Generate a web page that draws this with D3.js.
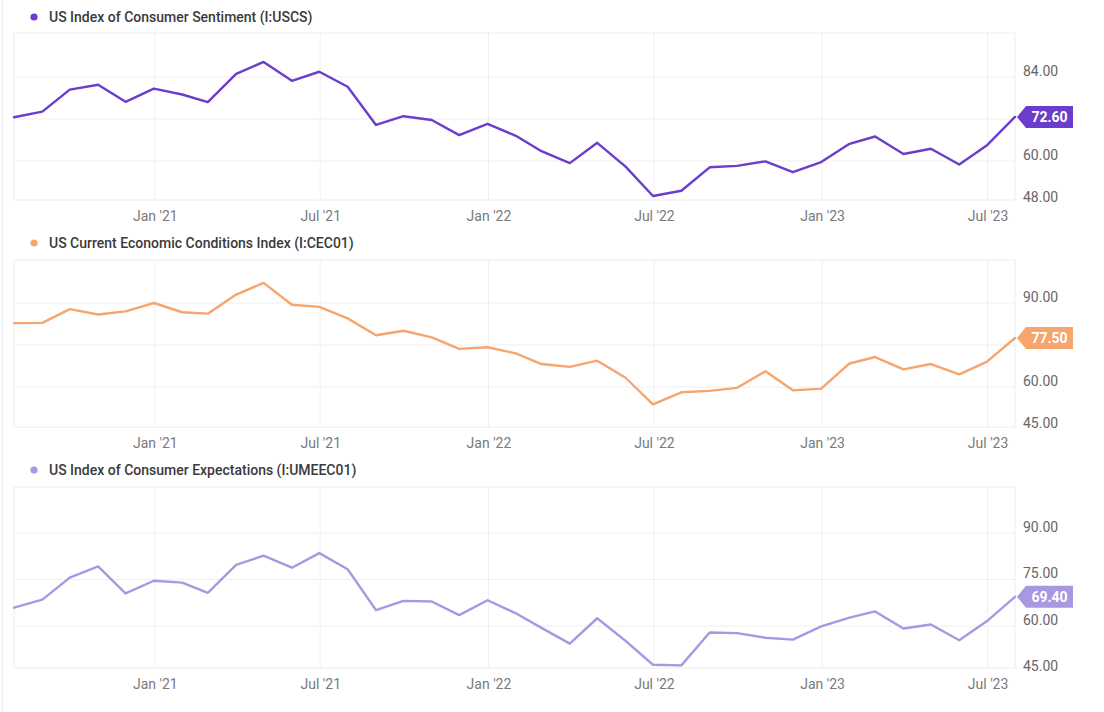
<!DOCTYPE html>
<html>
<head>
<meta charset="utf-8">
<script src="https://cdn.jsdelivr.net/npm/d3@7"></script>
<style>
  html, body { margin: 0; padding: 0; background: #ffffff; }
  svg { display: block; font-family: Roboto, "Noto Sans", sans-serif; }
</style>
</head>
<body>
<svg id="chart" width="1104" height="712"></svg>
<script>
// ---------- data ----------
const months = [
  "2020-07","2020-08","2020-09","2020-10","2020-11","2020-12",
  "2021-01","2021-02","2021-03","2021-04","2021-05","2021-06","2021-07","2021-08","2021-09","2021-10","2021-11","2021-12",
  "2022-01","2022-02","2022-03","2022-04","2022-05","2022-06","2022-07","2022-08","2022-09","2022-10","2022-11","2022-12",
  "2023-01","2023-02","2023-03","2023-04","2023-05","2023-06","2023-07"
];
const sentiment = [
  72.5, 74.1, 80.4, 81.8, 76.9, 80.7,
  79.0, 76.8, 84.9, 88.3, 82.9, 85.5, 81.2, 70.3, 72.8, 71.7, 67.4, 70.6,
  67.2, 62.8, 59.4, 65.2, 58.4, 50.0, 51.5, 58.2, 58.6, 59.9, 56.8, 59.7,
  64.9, 67.0, 62.0, 63.5, 59.0, 64.4, 72.6
];
const currentConditions = [
  82.8, 82.9, 87.8, 85.9, 87.0, 90.0,
  86.7, 86.2, 93.0, 97.2, 89.4, 88.6, 84.5, 78.5, 80.1, 77.7, 73.6, 74.2,
  72.0, 68.2, 67.2, 69.4, 63.3, 53.8, 58.1, 58.6, 59.7, 65.6, 58.8, 59.4,
  68.4, 70.7, 66.3, 68.2, 64.5, 69.0, 77.5
];
const expectations = [
  65.9, 68.5, 75.6, 79.2, 70.5, 74.6,
  74.0, 70.7, 79.7, 82.7, 78.8, 83.5, 78.3, 65.1, 68.1, 67.9, 63.5, 68.3,
  64.1, 59.4, 54.3, 62.5, 55.2, 47.5, 47.3, 57.9, 57.7, 56.2, 55.6, 59.9,
  62.7, 64.7, 59.2, 60.5, 55.4, 61.5, 69.4
];
const seriesNames = [
  "US Index of Consumer Sentiment (I:USCS)",
  "US Current Economic Conditions Index (I:CEC01)",
  "US Index of Consumer Expectations (I:UMEEC01)"
];
const sentimentTicks = [48, 60, 72, 84];
const conditionsTicks = [45, 60, 75, 90];
const expectationsTicks = [45, 60, 75, 90];
const xTickDates = ["2021-01-01","2021-07-01","2022-01-01","2022-07-01","2023-01-01","2023-07-01"];
const xTickLabels = ["Jan '21","Jul '21","Jan '22","Jul '22","Jan '23","Jul '23"];

// ---------- layout / style ----------
const svg = d3.select("#chart");
const plotLeft = 14, plotRight = 1015;
const colors = ["#6a3dcc", "#f6a56c", "#a898e2"];
const panels = [
  { name: seriesNames[0], values: sentiment, ticks: sentimentTicks, color: colors[0],
    titleY: 17, top: 33, bottom: 200, domain: [48.86, 96.57] },
  { name: seriesNames[1], values: currentConditions, ticks: conditionsTicks, color: colors[1],
    titleY: 243, top: 260, bottom: 427, domain: [45.71, 105.36] },
  { name: seriesNames[2], values: expectations, ticks: expectationsTicks, color: colors[2],
    titleY: 470, top: 487, bottom: 668, domain: [46.45, 104.84] }
];

const parseMonth = d3.utcParse("%Y-%m");
const monthEnd = m => d3.utcDay.offset(d3.utcMonth.offset(parseMonth(m), 1), -1);
const dates = months.map(monthEnd);
const tickDates = xTickDates.map(d3.utcParse("%Y-%m-%d"));

const x = d3.scaleUtc()
  .domain([dates[0], dates[dates.length - 1]])
  .range([plotLeft, plotRight]);

// faint outer left edge
svg.append("line").attr("x1", 2.5).attr("x2", 2.5).attr("y1", 0).attr("y2", 712)
  .attr("stroke", "#ececec").attr("stroke-width", 1);

panels.forEach(p => {
  const g = svg.append("g");
  const y = d3.scaleLinear().domain(p.domain).range([p.bottom, p.top]);

  // title
  g.append("circle").attr("cx", 34).attr("cy", p.titleY).attr("r", 3.6).attr("fill", p.color);
  g.append("text").attr("x", 49).attr("y", p.titleY).attr("dominant-baseline", "central")
    .attr("font-size", 14).attr("font-weight", 500).attr("fill", "#3a3a3a").text(p.name);

  // plot box
  g.append("rect").attr("x", plotLeft).attr("y", p.top)
    .attr("width", plotRight - plotLeft).attr("height", p.bottom - p.top)
    .attr("fill", "#ffffff").attr("stroke", "#ededed").attr("stroke-width", 1);

  // horizontal grid
  p.ticks.filter(v => y(v) > p.top + 1 && y(v) < p.bottom - 1).forEach(v => {
    g.append("line").attr("x1", plotLeft).attr("x2", plotRight)
      .attr("y1", y(v)).attr("y2", y(v)).attr("stroke", "#efefef").attr("stroke-width", 1);
  });

  // vertical grid + x axis
  const xAxis = d3.axisBottom(x).tickValues(tickDates)
    .tickFormat((d, i) => xTickLabels[i]).tickSize(0).tickPadding(0);
  const ax = g.append("g").attr("transform", `translate(0,${p.bottom + 16})`).call(xAxis);
  ax.select(".domain").remove();
  ax.selectAll("text").attr("font-size", 14).attr("fill", "#7a7a7a")
    .attr("font-family", "Roboto, sans-serif").attr("dy", "0.35em").attr("y", 0);
  tickDates.forEach(d => {
    g.append("line").attr("x1", x(d)).attr("x2", x(d)).attr("y1", p.top).attr("y2", p.bottom)
      .attr("stroke", "#f0f0f0").attr("stroke-width", 1);
  });

  // line
  const line = d3.line().x((d, i) => x(dates[i])).y(d => y(d));
  g.append("path").datum(p.values).attr("d", line)
    .attr("fill", "none").attr("stroke", p.color).attr("stroke-width", 2.4)
    .attr("stroke-linejoin", "round").attr("stroke-linecap", "round");

  // value badge
  const last = p.values[p.values.length - 1];
  const bx = x(dates[dates.length - 1]) + 2, by = y(last);
  const bh = 22, bw = 56, tip = 9;

  // y labels (hide ones colliding with badge)
  p.ticks.forEach(v => {
    const ly = y(v) - 6;
    if (Math.abs(ly - by) < 16) return;
    g.append("text").attr("x", 1023).attr("y", ly).attr("dominant-baseline", "central")
      .attr("font-size", 14).attr("fill", "#666").text(d3.format(".2f")(v));
  });

  g.append("path")
    .attr("d", `M${bx},${by} L${bx + tip},${by - bh / 2} L${bx + bw},${by - bh / 2} L${bx + bw},${by + bh / 2} L${bx + tip},${by + bh / 2} Z`)
    .attr("fill", p.color);
  g.append("text").attr("x", bx + tip + (bw - tip) / 2).attr("y", by)
    .attr("dominant-baseline", "central").attr("text-anchor", "middle")
    .attr("font-size", 14).attr("font-weight", 700).attr("fill", "#ffffff")
    .text(d3.format(".2f")(last));
});
</script>
</body>
</html>
